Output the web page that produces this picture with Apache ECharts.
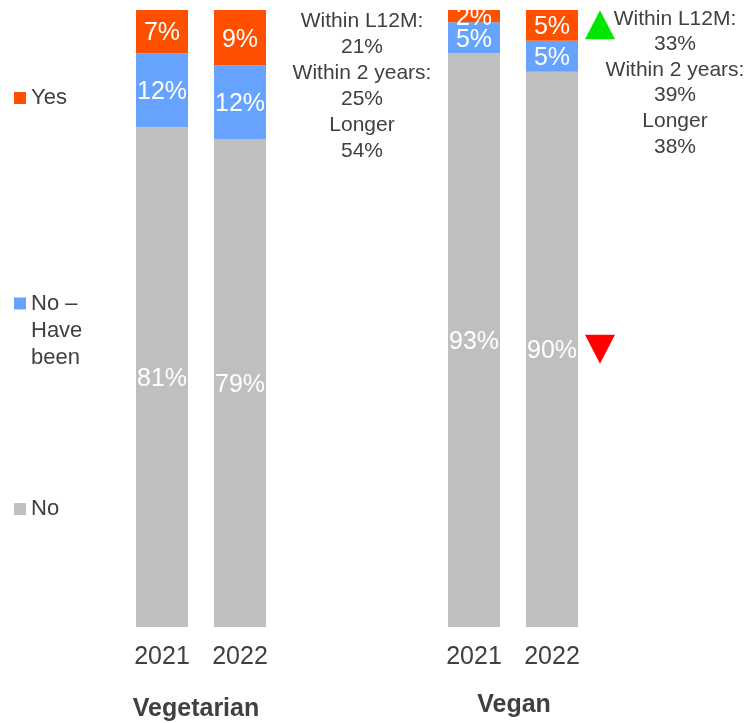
<!DOCTYPE html>
<html>
<head>
<meta charset="utf-8">
<script src="https://cdn.jsdelivr.net/npm/echarts@6/dist/echarts.min.js"></script>
<style>
  html, body { margin: 0; padding: 0; background: #fff; }
  #chart { width: 748px; height: 723px; }
</style>
</head>
<body>
<div id="chart"></div>
<script>
// categories (two empty slots make the gap between the groups)
var years = ['2021', '2022', '', '', '2021', '2022'];
var groups = ['Vegetarian', 'Vegan'];
// series values, %
var yesVals = [7, 9, '-', '-', 2, 5];
var haveBeenVals = [12, 12, '-', '-', 5, 5];
var noVals = [81, 79, '-', '-', 93, 90];
// side notes
var vegetarianNote = ['Within L12M:', '21%', 'Within 2 years:', '25%', 'Longer', '54%'];
var veganNote = ['Within L12M:', '33%', 'Within 2 years:', '39%', 'Longer', '38%'];

var font = "'Liberation Sans', Arial, sans-serif";
var textColor = '#404040';

var myChart = echarts.init(document.getElementById('chart'));

function barLabel() {
  return { show: true, position: 'inside', offset: [0, 2], color: '#fff', fontSize: 25, fontFamily: font, formatter: '{c}%' };
}

var legendText = { fontSize: 22, color: textColor, fontFamily: font };

var option = {
  animation: false,
  grid: { left: 123, right: 157, top: 10, bottom: 96 },
  legend: [
    { data: ['Yes'], orient: 'vertical', left: 14, top: 87, padding: 0, icon: 'rect', itemWidth: 12, itemHeight: 12,
      textStyle: legendText },
    { data: ['No – Have been'], orient: 'vertical', left: 14, top: 236, padding: 0, icon: 'rect', itemWidth: 12, itemHeight: 12,
      // two empty lines first so that "No –" sits level with the square
      formatter: function () { return '\n\nNo –\nHave\nbeen'; },
      textStyle: { fontSize: 22, lineHeight: 27, color: textColor, fontFamily: font } },
    { data: ['No'], orient: 'vertical', left: 14, top: 498, padding: 0, icon: 'rect', itemWidth: 12, itemHeight: 12,
      textStyle: legendText }
  ],
  xAxis: {
    type: 'category',
    data: years,
    axisLine: { show: false },
    axisTick: { show: false },
    axisLabel: { interval: 0, margin: 18, fontSize: 25, color: textColor, fontFamily: font }
  },
  yAxis: { type: 'value', min: 0, max: 100, show: false },
  series: [
    { name: 'No', type: 'bar', stack: 'all', data: noVals, barWidth: 52,
      itemStyle: { color: '#BFBFBF' }, label: barLabel(),
      markPoint: {
        symbol: 'triangle', symbolSize: [30, 29], symbolRotate: 180, symbolOffset: [48, 0],
        itemStyle: { color: '#FF0000' }, label: { show: false },
        data: [{ coord: [5, 45] }]
      } },
    { name: 'No – Have been', type: 'bar', stack: 'all', data: haveBeenVals, barWidth: 52,
      itemStyle: { color: '#66A3FF' }, label: barLabel() },
    { name: 'Yes', type: 'bar', stack: 'all', data: yesVals, barWidth: 52,
      itemStyle: { color: '#FF5000' }, label: barLabel(),
      markPoint: {
        symbol: 'triangle', symbolSize: [30, 29], symbolOffset: [48, 0],
        itemStyle: { color: '#00E600' }, label: { show: false },
        data: [{ coord: [5, 97.6] }]
      } }
  ],
  graphic: [
    { type: 'text', x: 362, y: 8, style: { text: vegetarianNote.join('\n'), align: 'center', fontSize: 21, lineHeight: 26, fill: textColor, fontFamily: font } },
    { type: 'text', x: 675, y: 6, style: { text: veganNote.join('\n'), align: 'center', fontSize: 21, lineHeight: 25.6, fill: textColor, fontFamily: font } },
    { type: 'text', x: 196, y: 697, style: { text: groups[0], align: 'center', fontSize: 25, fontWeight: 'bold', fill: textColor, fontFamily: font } },
    { type: 'text', x: 514, y: 693, style: { text: groups[1], align: 'center', fontSize: 25, fontWeight: 'bold', fill: textColor, fontFamily: font } }
  ]
};

myChart.setOption(option);
</script>
</body>
</html>
